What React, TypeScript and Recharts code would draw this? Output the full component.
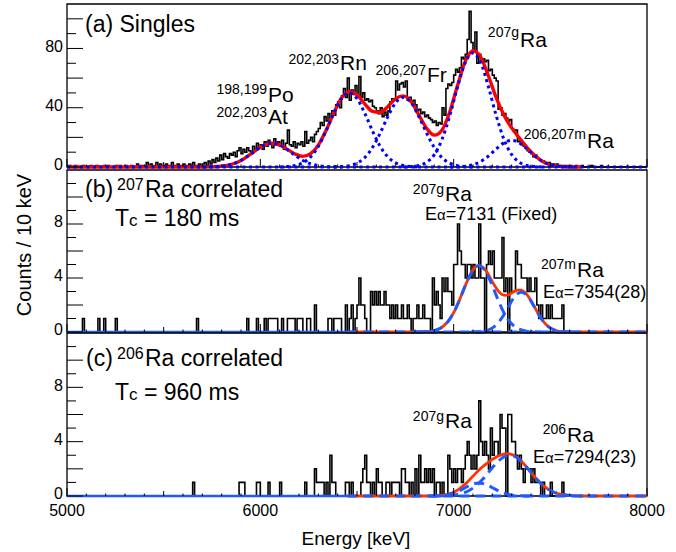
import React from "react";
import { ComposedChart, Line, XAxis, YAxis, ReferenceArea } from "recharts";

const FONT = "'Liberation Sans', Arial, Helvetica, sans-serif";
const W = 676;
const H = 552;

// ---------- axes ----------
const E_MIN = 5000;
const E_MAX = 8000;
const BIN = 10; // keV per bin
const xLabelTicks = [5000, 6000, 7000, 8000];
const xTicks: number[] = [];
for (let e = E_MIN; e <= E_MAX; e += 100) xTicks.push(e);
const aYTicks = [0, 10, 20, 30, 40, 50, 60, 70, 80, 90, 100];
const aYLabels = [0, 40, 80];
const bcYTicks = [0, 1, 2, 3, 4, 5, 6, 7, 8, 9, 10, 11];
const bcYLabels = [0, 4, 8];

// ---------- histograms: counts per 10 keV bin, 5000..7990 ----------
const aCounts = [
  0, 1, 0, 0, 1, 0, 0, 0, 1, 0,
  0, 0, 1, 0, 0, 1, 0, 0, 0, 1,
  0, 1, 0, 0, 0, 1, 0, 1, 0, 0,
  1, 0, 0, 1, 0, 0, 2, 0, 1, 0,
  1, 3, 0, 2, 1, 0, 3, 1, 2, 0,
  1, 2, 0, 1, 3, 1, 0, 2, 1, 1,
  2, 0, 1, 2, 1, 3, 1, 0, 2, 1,
  2, 3, 1, 4, 2, 5, 3, 6, 4, 8,
  5, 9, 7, 6, 9, 8, 10, 7, 11, 13,
  9, 12, 10, 13, 11, 9, 14, 12, 16, 13,
  15, 12, 17, 14, 18, 16, 13, 19, 15, 17,
  14, 18, 12, 16, 25, 15, 14, 17, 13, 16,
  15, 17, 14, 24, 16, 18, 20, 17, 22, 24,
  26, 30, 28, 34, 31, 36, 33, 38, 35, 42,
  44, 40, 48, 53, 47, 60, 45, 52, 49, 55,
  48, 61, 47, 50, 45, 46, 44, 45, 41, 40,
  38, 36, 40, 34, 37, 35, 38, 44, 46, 45,
  58, 52, 56, 57, 54, 58, 45, 47, 44, 45,
  42, 38, 39, 36, 37, 34, 35, 33, 32, 30,
  31, 28, 30, 29, 40, 35, 53, 56, 55, 57,
  62, 66, 64, 67, 74, 73, 76, 86, 105, 84,
  78, 91, 70, 76, 72, 73, 71, 72, 65, 66,
  62, 60, 58, 39, 40, 35, 36, 33, 31, 32,
  26, 24, 25, 17, 18, 15, 14, 13, 11, 10,
  9, 7, 8, 6, 5, 4, 4, 3, 3, 3,
  2, 2, 1, 2, 1, 1, 0, 1, 0, 1,
  1, 0, 0, 1, 0, 0, 1, 0, 0, 0,
  0, 1, 0, 0, 0, 0, 1, 0, 0, 0,
  0, 0, 0, 0, 0, 0, 0, 0, 0, 0,
  0, 0, 0, 0, 0, 0, 0, 0, 0, 0,
];

const bCounts = [
  0, 0, 0, 0, 0, 0, 0, 0, 1, 0,
  0, 0, 0, 0, 0, 0, 1, 0, 0, 1,
  0, 0, 0, 0, 0, 1, 0, 0, 0, 0,
  0, 0, 0, 0, 0, 0, 0, 0, 0, 0,
  0, 0, 0, 0, 0, 0, 0, 0, 0, 0,
  0, 0, 0, 0, 0, 0, 0, 0, 0, 0,
  0, 0, 0, 0, 0, 0, 0, 1, 0, 0,
  0, 0, 0, 0, 0, 0, 0, 0, 0, 0,
  0, 0, 0, 0, 0, 0, 0, 0, 0, 0,
  0, 0, 0, 1, 0, 0, 0, 0, 1, 0,
  0, 0, 1, 0, 1, 1, 1, 1, 1, 0,
  0, 1, 0, 0, 1, 1, 1, 1, 0, 1,
  1, 1, 0, 0, 1, 1, 0, 0, 2, 0,
  0, 0, 0, 0, 0, 1, 1, 0, 1, 1,
  1, 1, 0, 0, 2, 0, 1, 2, 0, 1,
  2, 4, 2, 2, 1, 0, 0, 3, 2, 3,
  2, 3, 2, 2, 3, 2, 2, 1, 2, 1,
  2, 1, 1, 2, 1, 1, 2, 1, 0, 1,
  1, 2, 1, 1, 2, 1, 1, 1, 0, 4,
  2, 3, 2, 1, 4, 3, 4, 3, 3, 2,
  5, 5, 8, 6, 5, 5, 4, 5, 5, 4,
  5, 4, 4, 8, 4, 4, 0, 5, 6, 5,
  6, 4, 4, 4, 4, 7, 3, 4, 0, 4,
  3, 3, 6, 5, 5, 4, 4, 4, 3, 4,
  3, 3, 4, 2, 1, 2, 1, 1, 2, 1,
  2, 1, 1, 1, 1, 1, 2, 0, 0, 0,
  0, 0, 0, 0, 0, 0, 0, 0, 0, 0,
  0, 0, 0, 0, 0, 0, 0, 0, 0, 0,
  0, 0, 0, 0, 0, 0, 0, 0, 0, 0,
  0, 0, 0, 0, 0, 0, 0, 0, 0, 0,
];

const cCounts = [
  0, 0, 0, 0, 0, 0, 0, 0, 0, 0,
  0, 0, 0, 0, 0, 0, 0, 0, 0, 0,
  0, 0, 0, 0, 0, 0, 0, 0, 0, 0,
  0, 0, 0, 0, 0, 0, 0, 0, 0, 0,
  0, 0, 0, 0, 0, 0, 0, 0, 0, 0,
  0, 0, 0, 0, 0, 0, 0, 0, 0, 0,
  0, 0, 0, 0, 0, 1, 0, 0, 0, 0,
  0, 0, 0, 0, 0, 0, 0, 0, 0, 0,
  0, 0, 0, 0, 0, 0, 0, 0, 0, 1,
  1, 1, 0, 0, 0, 0, 0, 0, 1, 1,
  0, 0, 0, 0, 1, 0, 0, 0, 0, 0,
  1, 0, 0, 0, 0, 0, 0, 0, 0, 0,
  0, 0, 0, 1, 0, 0, 0, 0, 2, 1,
  1, 1, 1, 0, 1, 0, 3, 1, 1, 0,
  0, 0, 0, 0, 1, 1, 0, 1, 0, 0,
  0, 0, 1, 2, 3, 1, 1, 0, 1, 0,
  2, 1, 1, 0, 0, 1, 1, 0, 1, 1,
  1, 1, 0, 2, 2, 1, 1, 0, 1, 0,
  2, 0, 3, 1, 1, 2, 1, 2, 1, 2,
  0, 1, 1, 0, 1, 0, 0, 3, 2, 1,
  2, 1, 2, 2, 1, 2, 3, 4, 3, 2,
  3, 2, 3, 7, 4, 3, 4, 3, 2, 5,
  3, 4, 4, 3, 6, 5, 5, 0, 6, 6,
  4, 4, 3, 2, 3, 2, 1, 2, 2, 2,
  1, 2, 1, 1, 1, 0, 1, 0, 0, 0,
  1, 0, 0, 0, 0, 0, 1, 0, 0, 0,
  0, 0, 0, 0, 0, 0, 0, 0, 0, 0,
  0, 0, 0, 0, 0, 0, 0, 0, 0, 0,
  0, 0, 0, 0, 0, 0, 0, 0, 0, 0,
  0, 0, 0, 0, 0, 0, 0, 0, 0, 0,
];

// ---------- fit curves ----------
// panel (a): sampled every 40 keV
const aFitFrom = 5000;
const aStep = 40;
const aSumStart = 5700;
const aSum = [
  0, 0.1, 0.3, 0.9, 2.2, 4.4, 7.8, 11.6, 14.8, 16, 14.9, 11.9, 8.8, 7.2, 9.0,
  14.8, 24.7, 36.4, 46.5, 50.9, 48.8, 42.6, 37.5, 36.8, 40.9, 46.2, 48.0, 44.0,
  35.1, 26.1, 21.5, 25.0, 37.3, 55.0, 71.3, 78.5, 74.2, 61.4, 46.8, 35.0, 26.4,
  19.5, 13.1, 7.7, 3.7, 1.5, 0.5, 0.1, 0, 0,
];
const aPoAtStart = 5700;
const aPoAt = [0, 0.1, 0.3, 0.9, 2.2, 4.4, 7.8, 11.6, 14.8, 16, 14.8, 11.6, 7.8, 4.4, 2.2, 0.9, 0.3, 0.1, 0];
const aRnStart = 6100;
const aRn = [0, 0.3, 1.0, 2.8, 6.8, 13.9, 24.4, 36.3, 46.2, 50, 46.2, 36.3, 24.4, 13.9, 6.8, 2.8, 1.0, 0.3, 0];
const aFrStart = 6380;
const aFr = [0, 0.3, 0.9, 2.6, 6.3, 13.1, 22.9, 34.1, 43.4, 47, 43.4, 34.1, 22.9, 13.1, 6.3, 2.6, 0.9, 0.3, 0];
const aRaGStart = 6740;
const aRaG = [0, 0.3, 1.0, 3.2, 8.4, 18.7, 34.7, 54.0, 70.5, 77, 70.5, 54.0, 34.7, 18.7, 8.4, 3.2, 1.0, 0.3, 0];
const aRaMStart = 6980;
const aRaM = [0, 0.1, 0.5, 1.5, 3.7, 7.4, 12.1, 16.3, 18, 16.3, 12.1, 7.4, 3.7, 1.5, 0.5, 0.1, 0];

// panels (b), (c): sampled every 20 keV, fit range 6450..8000
const bcFitFrom = 6450;
const bcStep = 20;
const bSumStart = 6810;
const bSum = [
  0, 0.01, 0.02, 0.04, 0.07, 0.15, 0.27, 0.47, 0.76, 1.18, 1.72, 2.37, 3.08, 3.77,
  4.36, 4.77, 4.92, 4.81, 4.47, 3.99, 3.48, 3.05, 2.78, 2.72, 2.8, 2.98, 3.1, 3.1,
  2.9, 2.55, 2.06, 1.55, 1.06, 0.68, 0.4, 0.22, 0.11, 0.05, 0.02, 0.01, 0,
];
const bGStart = 6810;
const bG = [
  0, 0.01, 0.02, 0.04, 0.07, 0.15, 0.27, 0.47, 0.76, 1.18, 1.72, 2.37, 3.08, 3.77,
  4.36, 4.76, 4.9, 4.76, 4.36, 3.77, 3.08, 2.37, 1.72, 1.18, 0.76, 0.47, 0.27, 0.15,
  0.07, 0.04, 0.02, 0.01, 0,
];
const bMStart = 7090;
const bM = [
  0, 0.01, 0.02, 0.05, 0.11, 0.22, 0.4, 0.68, 1.06, 1.54, 2.04, 2.51, 2.83, 2.95,
  2.83, 2.51, 2.04, 1.54, 1.06, 0.68, 0.4, 0.22, 0.11, 0.05, 0.02, 0.01, 0,
];
const cSumStart = 6850;
const cSum = [
  0, 0, 0.01, 0.02, 0.04, 0.07, 0.13, 0.22, 0.35, 0.53, 0.76, 1.02, 1.31, 1.61,
  1.89, 2.15, 2.38, 2.6, 2.78, 2.94, 3.05, 3.12, 3.1, 3.0, 2.82, 2.56, 2.25, 1.91,
  1.56, 1.23, 0.94, 0.69, 0.49, 0.33, 0.22, 0.14, 0.09, 0.05, 0.03, 0.02, 0.01, 0,
];
const c207Start = 6870;
const c207 = [
  0, 0.006, 0.013, 0.03, 0.05, 0.1, 0.17, 0.26, 0.39, 0.54, 0.69, 0.82, 0.92, 0.95,
  0.92, 0.82, 0.69, 0.54, 0.39, 0.26, 0.17, 0.1, 0.05, 0.03, 0.013, 0.006, 0,
];
const c206Start = 6890;
const c206 = [
  0, 0.004, 0.008, 0.016, 0.03, 0.05, 0.09, 0.14, 0.22, 0.33, 0.49, 0.69, 0.94, 1.23,
  1.56, 1.91, 2.24, 2.55, 2.79, 2.95, 3.0, 2.95, 2.79, 2.55, 2.24, 1.91, 1.56, 1.23,
  0.94, 0.69, 0.49, 0.33, 0.22, 0.14, 0.09, 0.05, 0.03, 0.016, 0.008, 0,
];

// ---------- table builders ----------
const histData = (counts: number[]) => [
  ...counts.map((c, i) => ({ e: E_MIN + i * BIN, c })),
  { e: E_MAX, c: 0 },
];
const curve = (start: number, step: number, vals: number[]) =>
  vals.map((v, i) => ({ e: start + i * step, v }));
const flat = (from: number, to: number) => [
  { e: from, v: 0 },
  { e: to, v: 0 },
];

// ---------- styles ----------
const RED_A = "#ff0000";
const BLUE_A = "#0000ff";
const RED_B = "#ff3300";
const BLUE_B = "#1f5aff";
const DOT = "3 3.5";
const DASH = "10 6";

// ---------- ticks ----------
const XTick = (props: any) => {
  const { x, y, payload, showLabels } = props;
  const v = payload.value as number;
  const len = v % 1000 === 0 ? 8 : v % 500 === 0 ? 5 : 2.5;
  return (
    <g>
      <line x1={x} x2={x} y1={y} y2={y - len} stroke="#000" strokeWidth={1} />
      {showLabels && xLabelTicks.includes(v) && (
        <text x={x} y={y + 19.5} textAnchor="middle" fontSize={16} fontFamily={FONT} fill="#000">
          {v}
        </text>
      )}
    </g>
  );
};

const YTick = (props: any) => {
  const { x, y, payload, labels, longStep } = props;
  const v = payload.value as number;
  const long = v % longStep === 0;
  return (
    <g>
      <line x1={x} x2={x + (long ? 16 : 9)} y1={y} y2={y} stroke="#000" strokeWidth={1} />
      {labels.includes(v) && (
        <text x={x - 4} y={y - 2.5} dy="0.36em" textAnchor="end" fontSize={16} fontFamily={FONT} fill="#000">
          {v}
        </text>
      )}
    </g>
  );
};

type PanelProps = {
  top: number;
  bottom: number;
  yMax: number;
  yTicks: number[];
  yLabels: number[];
  longStep: number;
  showXLabels: boolean;
  children: React.ReactNode;
};

function Panel({ top, bottom, yMax, yTicks, yLabels, longStep, showXLabels, children }: PanelProps) {
  return (
    <div style={{ position: "absolute", left: 0, top: 0 }}>
      <ComposedChart width={W} height={H} margin={{ top, right: 29, bottom: H - bottom - 1, left: 0 }}>
        <XAxis
          type="number"
          dataKey="e"
          domain={[E_MIN, E_MAX]}
          ticks={xTicks}
          interval={0}
          height={1}
          axisLine={false}
          tickLine={false}
          tickSize={0}
          tickMargin={0}
          tick={(p: any) => <XTick {...p} showLabels={showXLabels} />}
        />
        <YAxis
          type="number"
          domain={[0, yMax]}
          ticks={yTicks}
          interval={0}
          width={67}
          axisLine={false}
          tickLine={false}
          tickSize={0}
          tickMargin={0}
          tick={(p: any) => <YTick {...p} labels={yLabels} longStep={longStep} />}
        />
        <ReferenceArea x1={E_MIN} x2={E_MAX} y1={0} y2={yMax} fill="none" fillOpacity={0} stroke="#000" strokeWidth={1.3} />
        {children}
      </ComposedChart>
    </div>
  );
}

const common = { dot: false, activeDot: false, isAnimationActive: false } as const;

const Iso = ({ x, y, sup, main, rise, supSize = 14, mainSize = 21 }: any) => (
  <g>
    <text x={x - 1} y={y - rise} fontSize={supSize} textAnchor="end">
      {sup}
    </text>
    <text x={x} y={y} fontSize={mainSize}>
      {main}
    </text>
  </g>
);

export default function App() {
  return (
    <div style={{ position: "absolute", left: 0, top: 0, width: W, height: H, background: "#fff" }}>
      {/* (a) Singles */}
      <Panel top={4} bottom={167} yMax={110} yTicks={aYTicks} yLabels={aYLabels} longStep={20} showXLabels={false}>
        <Line {...common} data={histData(aCounts)} type="stepAfter" dataKey="c" stroke="#000" strokeWidth={1.6} />
        <Line {...common} data={[{ e: aFitFrom, v: 0 }, ...curve(aSumStart, aStep, aSum)]} type="monotone" dataKey="v" stroke={RED_A} strokeWidth={3.4} />
        <Line {...common} data={flat(E_MIN, E_MAX)} type="linear" dataKey="v" stroke={BLUE_A} strokeWidth={3} strokeDasharray={DOT} />
        <Line {...common} data={curve(aPoAtStart, aStep, aPoAt)} type="monotone" dataKey="v" stroke={BLUE_A} strokeWidth={3} strokeDasharray={DOT} />
        <Line {...common} data={curve(aRnStart, aStep, aRn)} type="monotone" dataKey="v" stroke={BLUE_A} strokeWidth={3} strokeDasharray={DOT} />
        <Line {...common} data={curve(aFrStart, aStep, aFr)} type="monotone" dataKey="v" stroke={BLUE_A} strokeWidth={3} strokeDasharray={DOT} />
        <Line {...common} data={curve(aRaGStart, aStep, aRaG)} type="monotone" dataKey="v" stroke={BLUE_A} strokeWidth={3} strokeDasharray={DOT} />
        <Line {...common} data={curve(aRaMStart, aStep, aRaM)} type="monotone" dataKey="v" stroke={BLUE_A} strokeWidth={3} strokeDasharray={DOT} />
      </Panel>

      {/* (b) 207Ra correlated */}
      <Panel top={170} bottom={332} yMax={12} yTicks={bcYTicks} yLabels={bcYLabels} longStep={2} showXLabels={false}>
        <Line {...common} data={histData(bCounts)} type="stepAfter" dataKey="c" stroke="#000" strokeWidth={1.6} />
        <Line {...common} data={flat(E_MIN, bcFitFrom)} type="linear" dataKey="v" stroke={BLUE_B} strokeWidth={2.4} />
        <Line {...common} data={[{ e: bcFitFrom, v: 0 }, ...curve(bSumStart, bcStep, bSum), { e: E_MAX, v: 0 }]} type="monotone" dataKey="v" stroke={RED_B} strokeWidth={2.8} />
        <Line {...common} data={flat(bcFitFrom, E_MAX)} type="linear" dataKey="v" stroke={BLUE_B} strokeWidth={3} strokeDasharray={DASH} />
        <Line {...common} data={curve(bGStart, bcStep, bG)} type="monotone" dataKey="v" stroke={BLUE_B} strokeWidth={3} strokeDasharray={DASH} />
        <Line {...common} data={curve(bMStart, bcStep, bM)} type="monotone" dataKey="v" stroke={BLUE_B} strokeWidth={3} strokeDasharray={DASH} />
      </Panel>

      {/* (c) 206Ra correlated */}
      <Panel top={333} bottom={496} yMax={12} yTicks={bcYTicks} yLabels={bcYLabels} longStep={2} showXLabels={true}>
        <Line {...common} data={histData(cCounts)} type="stepAfter" dataKey="c" stroke="#000" strokeWidth={1.6} />
        <Line {...common} data={flat(E_MIN, bcFitFrom)} type="linear" dataKey="v" stroke={BLUE_B} strokeWidth={2.4} />
        <Line {...common} data={[{ e: bcFitFrom, v: 0 }, ...curve(cSumStart, bcStep, cSum), { e: E_MAX, v: 0 }]} type="monotone" dataKey="v" stroke={RED_B} strokeWidth={2.8} />
        <Line {...common} data={flat(bcFitFrom, E_MAX)} type="linear" dataKey="v" stroke={BLUE_B} strokeWidth={3} strokeDasharray={DASH} />
        <Line {...common} data={curve(c207Start, bcStep, c207)} type="monotone" dataKey="v" stroke={BLUE_B} strokeWidth={3} strokeDasharray={DASH} />
        <Line {...common} data={curve(c206Start, bcStep, c206)} type="monotone" dataKey="v" stroke={BLUE_B} strokeWidth={3} strokeDasharray={DASH} />
      </Panel>

      {/* text annotations */}
      <svg width={W} height={H} style={{ position: "absolute", left: 0, top: 0, pointerEvents: "none" }} fontFamily={FONT} fill="#000">
        {/* panel a */}
        <text x={85} y={32} fontSize={23}>(a) Singles</text>
        <Iso x={268} y={102} sup="198,199" main="Po" rise={8} />
        <Iso x={268} y={124} sup="202,203" main="At" rise={7} />
        <Iso x={340} y={70} sup="202,203" main="Rn" rise={6} />
        <Iso x={427} y={82} sup="206,207" main="Fr" rise={7} />
        <Iso x={520} y={47} sup="207g" main="Ra" rise={10} />
        <Iso x={587} y={148} sup="206,207m" main="Ra" rise={9} />

        {/* panel b */}
        <text x={85} y={197} fontSize={23}>(b)</text>
        <text x={117} y={190} fontSize={16}>207</text>
        <text x={145} y={197} fontSize={23}>Ra correlated</text>
        <text x={115} y={226} fontSize={23}>
          T<tspan fontSize={17}>c</tspan> = 180 ms
        </text>
        <Iso x={445} y={201} sup="207g" main="Ra" rise={7} />
        <text x={425} y={220} fontSize={18}>
          E<tspan fontSize={15}>α</tspan>=7131 (Fixed)
        </text>
        <Iso x={577} y={277} sup="207m" main="Ra" rise={8} />
        <text x={543} y={298} fontSize={18}>
          E<tspan fontSize={15}>α</tspan>=7354(28)
        </text>

        {/* panel c */}
        <text x={86} y={366} fontSize={23}>(c)</text>
        <text x={117} y={359} fontSize={16}>206</text>
        <text x={145} y={366} fontSize={23}>Ra correlated</text>
        <text x={115} y={400} fontSize={23}>
          T<tspan fontSize={17}>c</tspan> = 960 ms
        </text>
        <Iso x={445} y={428} sup="207g" main="Ra" rise={7} />
        <Iso x={567} y={442} sup="206" main="Ra" rise={8} />
        <text x={533} y={463} fontSize={18}>
          E<tspan fontSize={15}>α</tspan>=7294(23)
        </text>

        {/* axis titles */}
        <text x={356} y={545} fontSize={19} textAnchor="middle">Energy [keV]</text>
        <text x={31} y={245} fontSize={20} textAnchor="middle" transform="rotate(-90 31 245)">
          Counts / 10 keV
        </text>
      </svg>
    </div>
  );
}
